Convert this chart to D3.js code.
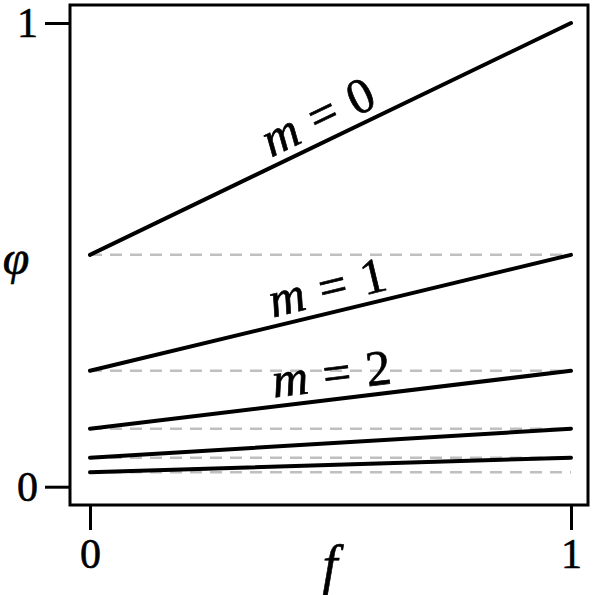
<!DOCTYPE html>
<html>
<head>
<meta charset="UTF-8">
<title>phi vs f</title>
<style>
  body { margin: 0; background: #fff; }
</style>
</head>
<body>
<script src="https://cdn.jsdelivr.net/npm/d3@7"></script>
<script>
// data
var fEnds = [0, 1];
var lineM0 = [0.5, 1];
var lineM1 = [0.25, 0.5];
var lineM2 = [0.125, 0.25];
var lineM3 = [0.0625, 0.125];
var lineM4 = [0.03125, 0.0625];
var dashLevels = [0.5, 0.25, 0.125, 0.0625, 0.03125];
var xTicks = [0, 1];
var yTicks = [0, 1];
var labelM = ["0", "1", "2"];

var series = [lineM0, lineM1, lineM2, lineM3, lineM4];
var serif = "'Liberation Serif', 'Times New Roman', serif";

var w = 594, h = 595;
var svg = d3.select("body").append("svg")
  .attr("width", w)
  .attr("height", h)
  .attr("font-family", serif);

var x = d3.scaleLinear().domain([0, 1]).range([90, 571]);
var y = d3.scaleLinear().domain([0, 1]).range([486.7, 23]);

// frame
svg.append("rect")
  .attr("x", 70).attr("y", 5)
  .attr("width", 518).attr("height", 500)
  .attr("fill", "none")
  .attr("stroke", "#000")
  .attr("stroke-width", 3);

// dashed reference levels
svg.selectAll("line.ref")
  .data(dashLevels)
  .enter()
  .append("line")
  .attr("class", "ref")
  .attr("x1", x(0)).attr("x2", x(1))
  .attr("y1", function (d) { return y(d); })
  .attr("y2", function (d) { return y(d); })
  .attr("stroke", "#bfbfbf")
  .attr("stroke-width", 2.5)
  .attr("stroke-dasharray", "12,8");

var line = d3.line()
  .x(function (d, i) { return x(fEnds[i]); })
  .y(function (d) { return y(d); });

svg.selectAll("path.m")
  .data(series)
  .enter()
  .append("path")
  .attr("class", "m")
  .attr("d", line)
  .attr("fill", "none")
  .attr("stroke", "#000")
  .attr("stroke-width", 4)
  .attr("stroke-linecap", "round");

// axes
var yAxis = svg.append("g")
  .attr("transform", "translate(70,0)")
  .call(d3.axisLeft(y).tickValues(yTicks).tickFormat(d3.format("d")).tickSize(25).tickPadding(7));
var xAxis = svg.append("g")
  .attr("transform", "translate(0,505)")
  .call(d3.axisBottom(x).tickValues(xTicks).tickFormat(d3.format("d")).tickSize(25).tickPadding(8));

[xAxis, yAxis].forEach(function (g) {
  g.attr("font-family", serif).attr("font-size", 42);
  g.select(".domain").remove();
  g.selectAll(".tick line").attr("stroke", "#000").attr("stroke-width", 3);
  g.selectAll(".tick text").attr("fill", "#000")
    .attr("stroke", "#000").attr("stroke-width", 0.6);
});

// axis titles
svg.append("text")
  .attr("x", 16).attr("y", 274)
  .attr("text-anchor", "middle")
  .attr("font-size", 48)
  .attr("font-style", "italic")
  .attr("stroke", "#000").attr("stroke-width", 0.6)
  .text("φ");
svg.append("text")
  .attr("x", 330).attr("y", 583)
  .attr("text-anchor", "middle")
  .attr("font-size", 54)
  .attr("font-style", "italic")
  .attr("stroke", "#000").attr("stroke-width", 0.6)
  .text("f");

// rotated labels along the lines
var fLab = 0.385;
labelM.forEach(function (k, i) {
  var s = series[i];
  var x0 = x(0), y0 = y(s[0]), x1 = x(1), y1 = y(s[1]);
  var ang = Math.atan2(y1 - y0, x1 - x0);
  var px = x(fLab);
  var py = y(s[0] + (s[1] - s[0]) * fLab);
  var off = 9;
  px += Math.sin(ang) * off;
  py -= Math.cos(ang) * off;
  var t = svg.append("text")
    .attr("transform", "translate(" + px + "," + py + ") rotate(" + (ang * 180 / Math.PI) + ")")
    .attr("font-size", 50)
    .attr("stroke", "#000").attr("stroke-width", 0.7);
  t.append("tspan").attr("font-style", "italic").text("m");
  t.append("tspan").attr("dx", 15).text("=");
  t.append("tspan").attr("dx", 15).text(k);
});
</script>
</body>
</html>
